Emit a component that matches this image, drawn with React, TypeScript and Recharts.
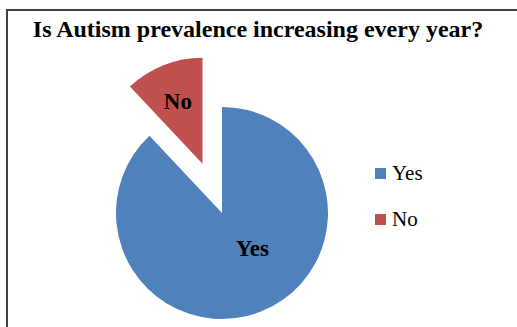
import { PieChart, Pie, Cell, Sector, Legend } from 'recharts';

const categories = ['Yes', 'No'];
const values = [88, 12];
const colors = ['#4F81BD', '#C0504D'];

const data = categories.map((name, i) => ({ name, value: values[i] }));

// how far each slice is pulled out of the pie, in px
const explode: Record<string, number> = { Yes: 0, No: 53 };
// label placement inside each slice (fraction of radius, angle tweak in degrees)
const labelRadius: Record<string, number> = { Yes: 0.44, No: 0.63 };
const labelTurn: Record<string, number> = { Yes: 19, No: 0 };

const RADIAN = Math.PI / 180;
const serif = '"Liberation Serif", "DejaVu Serif", serif';

function shift(name: string, midAngle: number) {
  const off = explode[name] || 0;
  return { dx: off * Math.cos(-midAngle * RADIAN), dy: off * Math.sin(-midAngle * RADIAN) };
}

const ExplodedSector = (props: any) => {
  const { dx, dy } = shift(props.name ?? props.payload?.name, props.midAngle);
  return <Sector {...props} cx={props.cx + dx} cy={props.cy + dy} stroke="none" />;
};

const renderLabel = (props: any) => {
  const { cx, cy, midAngle, outerRadius, name } = props;
  const { dx, dy } = shift(name, midAngle);
  const r = outerRadius * (labelRadius[name] ?? 0.5);
  const a = (midAngle + (labelTurn[name] ?? 0)) * RADIAN;
  const x = cx + dx + r * Math.cos(-a);
  const y = cy + dy + r * Math.sin(-a);
  return (
    <text x={x} y={y} textAnchor="middle" dominantBaseline="central"
      fontFamily={serif} fontWeight="bold" fontSize={23} fill="#000">
      {name}
    </text>
  );
};

const renderLegend = () => (
  <div style={{ fontFamily: serif, fontSize: 21, color: '#000' }}>
    {categories.map((c, i) => (
      <div key={c} style={{ display: 'flex', alignItems: 'center', height: 46 }}>
        <span style={{ width: 11, height: 11, background: colors[i], marginRight: 6 }} />
        <span>{c}</span>
      </div>
    ))}
  </div>
);

export default function App() {
  return (
    <div>
      <div style={{
        position: 'absolute', left: 6, top: 9, width: 560, height: 360,
        border: '2px solid #404040', boxSizing: 'border-box',
      }} />
      <div style={{
        position: 'absolute', left: 0, top: 16, width: 516, textAlign: 'center',
        fontFamily: serif, fontWeight: 'bold', fontSize: 24, color: '#000',
      }}>
        Is Autism prevalence increasing every year?
      </div>
      <div style={{ position: 'absolute', left: 0, top: 0 }}>
        <PieChart width={517} height={327} margin={{ top: 0, right: 0, bottom: 0, left: 0 }}>
          <Pie
            data={data}
            dataKey="value"
            nameKey="name"
            cx={222}
            cy={213}
            outerRadius={106}
            startAngle={90}
            endAngle={-270}
            shape={ExplodedSector}
            label={renderLabel}
            labelLine={false}
            isAnimationActive={false}
          >
            {data.map((d, i) => (
              <Cell key={d.name} fill={colors[i]} />
            ))}
          </Pie>
          <Legend
            content={renderLegend}
            layout="vertical"
            wrapperStyle={{ position: 'absolute', left: 375, top: 150, width: 80 }}
          />
        </PieChart>
      </div>
    </div>
  );
}
